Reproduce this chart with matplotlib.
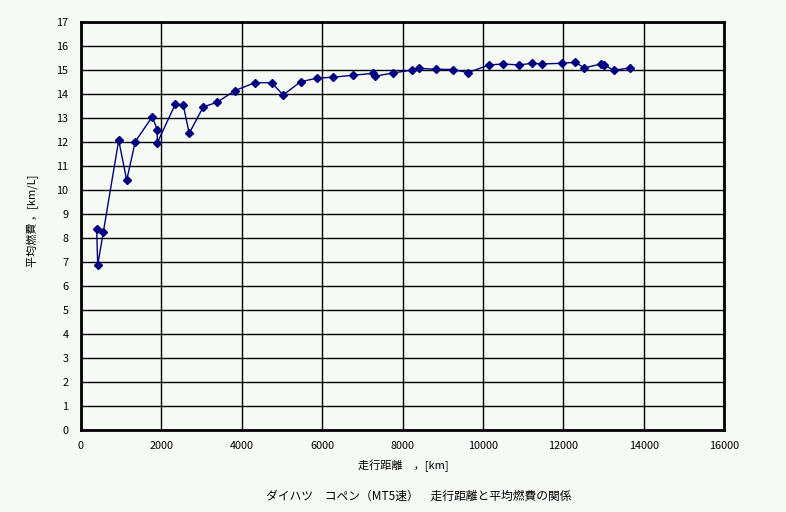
import matplotlib
matplotlib.use("Agg")
import matplotlib.pyplot as plt

distance_km = [390, 415, 555, 938, 1137, 1350, 1773, 1898, 1898, 2345, 2544, 2693,
               3042, 3382, 3830, 4327, 4743, 5031, 5464, 5877, 6275, 6772, 7255, 7319,
               7767, 8224, 8399, 8846, 9259, 9625, 10154, 10503, 10901, 11216, 11465,
               11962, 12293, 12527, 12940, 13025, 13256, 13671]
fuel_km_per_l = [8.38, 6.87, 8.24, 12.08, 10.41, 12.02, 13.06, 12.51, 11.97, 13.58, 13.55, 12.37,
                 13.47, 13.66, 14.15, 14.48, 14.48, 13.97, 14.52, 14.67, 14.71, 14.79, 14.87, 14.75,
                 14.89, 15.00, 15.08, 15.04, 15.03, 14.90, 15.22, 15.26, 15.22, 15.29, 15.26,
                 15.29, 15.33, 15.10, 15.26, 15.21, 15.00, 15.10]
x_ticks = list(range(0, 16001, 2000))
y_ticks = list(range(0, 18))

xlabel = "走行距離　，[km]"
ylabel = "平均燃費 ，[km/L]"
title = "ダイハツ　コペン（MT5速）　走行距離と平均燃費の関係"

plt.rcParams['font.family'] = ['Noto Sans CJK JP', 'DejaVu Sans']
bg = '#F5FAF5'
fig = plt.figure(figsize=(7.86, 5.12), dpi=100, facecolor=bg)
ax = fig.add_axes([81/786, 1-429.7/512, (724-81)/786, (429.7-22.3)/512])
ax.set_facecolor(bg)
ax.plot(distance_km, fuel_km_per_l, color='#000080', lw=1.0, marker='D', ms=4.5,
        mfc='#000080', mec='#000080', zorder=3)
ax.set_xlim(0, 16000)
ax.set_ylim(0, 17)
ax.set_xticks(x_ticks)
ax.set_yticks(y_ticks)
ax.set_xticklabels([str(v) for v in x_ticks], fontsize=7.8)
ax.set_yticklabels([str(v) for v in y_ticks], fontsize=7.8)
ax.tick_params(length=0, pad=8)
ax.tick_params(axis='y', pad=9)
ax.grid(True, color='black', lw=1.0)
ax.set_axisbelow(True)
for s in ax.spines.values():
    s.set_linewidth(2.0)
    s.set_color('black')
fig.text(403/786, 1-466/512, xlabel, ha='center', va='center', fontsize=8)
fig.text(33/786, 1-221/512, ylabel, ha='center', va='center', fontsize=8, rotation=90)
fig.text(419/786, 1-496/512, title, ha='center', va='center', fontsize=8.5)
fig.savefig('out.png', dpi=100, facecolor=bg)
